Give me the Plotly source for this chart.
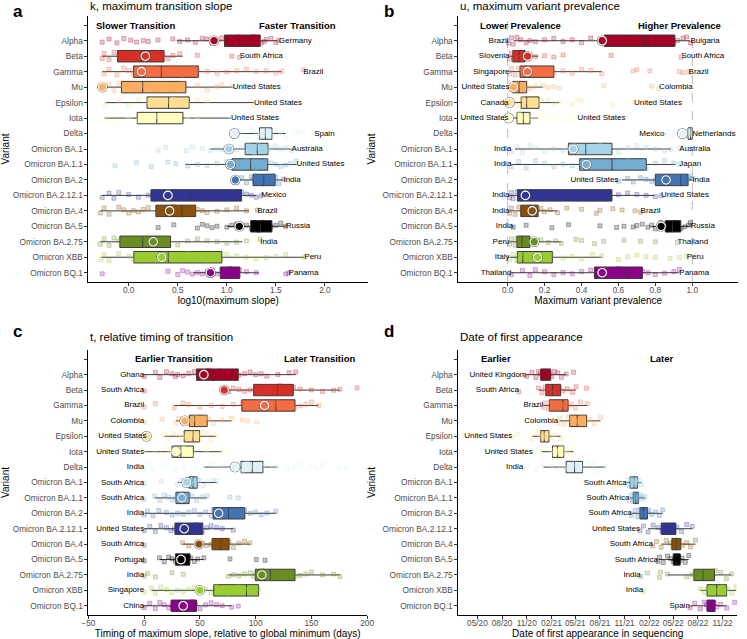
import plotly.graph_objects as go

# ---------------- data ----------------
variants = ['Alpha', 'Beta', 'Gamma', 'Mu', 'Epsilon', 'Iota', 'Delta',
            'Omicron BA.1', 'Omicron BA.1.1', 'Omicron BA.2', 'Omicron BA.2.12.1',
            'Omicron BA.4', 'Omicron BA.5', 'Omicron BA.2.75', 'Omicron XBB', 'Omicron BQ.1']
colors = ['#A50026', '#D73027', '#F46D43', '#FDAE61', '#FEE090', '#FFFFBF', '#E0F3F8',
          '#A6D3E8', '#74ADD1', '#4575B4', '#313695', '#8C510A', '#000000', '#6B8E23',
          '#9ACD32', '#8B008B']

# panel a: log10(maximum slope)
slope_lower = [0.49, -0.27, -0.27, -0.25, -0.24, -0.247, 1.08, 0.827, 0.577, 1.09, -0.273, -0.29, 1.0, -0.29, -0.28, 0.66]
slope_q1 = [0.977, -0.113, 0.05, -0.073, 0.187, 0.087, 1.333, 1.187, 1.053, 1.267, 0.227, 0.277, 1.243, -0.09, 0.053, 0.933]
slope_median = [1.23, 0.127, 0.333, 0.143, 0.407, 0.287, 1.393, 1.31, 1.243, 1.377, 0.637, 0.543, 1.343, 0.143, 0.403, 1.05]
slope_q3 = [1.34, 0.36, 0.71, 0.583, 0.617, 0.553, 1.46, 1.42, 1.417, 1.493, 1.15, 0.683, 1.46, 0.427, 0.95, 1.133]
slope_upper = [1.51, 0.55, 1.56, 1.06, 1.277, 1.043, 1.6, 1.66, 1.71, 1.577, 1.3, 1.227, 1.6, 1.16, 1.79, 1.327]
slope_highlight = [0.87, 0.17, 0.13, -0.267, None, None, 1.077, 1.02, 1.037, 1.087, 0.40, 0.417, 1.127, 0.25, 0.337, 0.833]
slope_max_country = ['Germany', 'South Africa', 'Brazil', 'United States', 'United States', 'United States',
                     'Spain', 'Australia', 'United States', 'India', 'Mexico', 'Brazil', 'Russia', 'India',
                     'Peru', 'Panama']
slope_points = [
    [-0.27, -0.2, -0.12, -0.05, 0.02, 0.08, 0.15, 0.2, 0.3, 0.45, 0.52, 0.6, 0.68, 0.75, 0.8, 0.85, 0.9, 0.95, 1.0,
     1.02, 1.05, 1.08, 1.1, 1.12, 1.15, 1.18, 1.2, 1.22, 1.25, 1.27, 1.3, 1.32, 1.35, 1.38, 1.4, 1.45, 1.5, 1.53],
    [-0.27, -0.25, -0.2, -0.15, -0.1, -0.05, 0.0, 0.05, 0.1, 0.12, 0.15, 0.2, 0.25, 0.3, 0.35, 0.4, 0.45, 0.52, 0.7, 1.05, 1.13],
    [-0.25, -0.2, -0.12, -0.05, 0.0, 0.05, 0.1, 0.15, 0.2, 0.25, 0.3, 0.35, 0.4, 0.45, 0.5, 0.55, 0.6, 0.65, 0.7, 0.8,
     0.9, 1.0, 1.1, 1.2, 1.3, 1.4, 1.5, 1.56, 1.78],
    [-0.25, -0.2, -0.15, -0.1, -0.05, 0.0, 0.05, 0.1, 0.15, 0.2, 0.3, 0.4, 0.45, 0.55, 0.7, 0.8, 0.9, 0.95, 1.06],
    [-0.24, -0.1, 0.0, 0.1, 0.2, 0.25, 0.3, 0.35, 0.4, 0.45, 0.5, 0.55, 0.6, 0.7, 0.8, 1.277],
    [-0.247, -0.2, -0.15, -0.1, 0.0, 0.1, 0.15, 0.2, 0.3, 0.4, 0.5, 0.6, 0.7, 0.8, 1.043],
    [1.1, 1.15, 1.2, 1.25, 1.3, 1.33, 1.35, 1.37, 1.39, 1.4, 1.42, 1.44, 1.46, 1.5, 1.55, 1.6, 1.7, 1.75, 1.89],
    [0.30, 0.38, 0.59, 0.65, 0.75, 0.83, 0.9, 0.95, 1.0, 1.05, 1.1, 1.15, 1.2, 1.22, 1.25, 1.28, 1.3, 1.32, 1.35, 1.38,
     1.4, 1.42, 1.45, 1.5, 1.55, 1.6, 1.66],
    [-0.14, 0.08, 0.23, 0.4, 0.48, 0.6, 0.7, 0.8, 0.9, 1.0, 1.05, 1.1, 1.15, 1.2, 1.25, 1.3, 1.35, 1.4, 1.45, 1.5, 1.55,
     1.6, 1.65, 1.71],
    [1.09, 1.15, 1.2, 1.25, 1.27, 1.3, 1.32, 1.35, 1.37, 1.38, 1.4, 1.42, 1.45, 1.47, 1.5, 1.53, 1.577],
    [-0.27, -0.2, -0.15, -0.1, 0.0, 0.1, 0.2, 0.3, 0.4, 0.5, 0.6, 0.65, 0.7, 0.8, 0.9, 1.0, 1.1, 1.15, 1.2, 1.25, 1.3, 1.35],
    [-0.29, -0.25, -0.2, -0.1, -0.05, 0.0, 0.05, 0.1, 0.15, 0.2, 0.3, 0.35, 0.4, 0.45, 0.5, 0.55, 0.6, 0.65, 0.7, 0.75,
     0.8, 0.9, 1.0, 1.1, 1.2, 1.31],
    [0.30, 0.46, 0.7, 0.75, 0.8, 0.85, 0.9, 1.0, 1.05, 1.1, 1.15, 1.2, 1.25, 1.28, 1.3, 1.32, 1.34, 1.36, 1.38, 1.4,
     1.42, 1.45, 1.5, 1.55, 1.6],
    [-0.29, -0.25, -0.2, -0.15, -0.1, -0.05, 0.0, 0.05, 0.1, 0.15, 0.2, 0.25, 0.3, 0.35, 0.4, 0.5, 0.6, 0.7, 0.8, 0.9,
     1.0, 1.1, 1.2, 1.34],
    [-0.28, -0.25, -0.2, -0.1, 0.0, 0.05, 0.1, 0.15, 0.2, 0.25, 0.3, 0.4, 0.5, 0.6, 0.7, 0.8, 0.9, 1.0, 1.1, 1.2, 1.3,
     1.4, 1.5, 1.6, 1.79],
    [-0.27, 0.4, 0.5, 0.55, 0.6, 0.65, 0.7, 0.75, 0.8, 0.85, 0.9, 0.95, 1.0, 1.03, 1.05, 1.08, 1.1, 1.13, 1.2, 1.3, 1.6, 1.63],
]
slope_ticks = [0.0, 0.5, 1.0, 1.5, 2.0]

# panel b: maximum variant prevalence
prev_lower = [0.032, 0.01, 0.01, 0.01, 0.01, 0.005, 0.95, 0.04, 0.02, 0.618, 0.01, 0.01, 0.78, 0.01, 0.01, 0.02]
prev_q1 = [0.524, 0.028, 0.067, 0.028, 0.073, 0.05, 0.977, 0.329, 0.39, 0.8, 0.053, 0.071, 0.854, 0.05, 0.052, 0.47]
prev_median = [0.742, 0.062, 0.103, 0.062, 0.103, 0.085, 0.991, 0.423, 0.565, 0.938, 0.13, 0.126, 0.893, 0.078, 0.082, 0.645]
prev_q3 = [0.906, 0.094, 0.25, 0.103, 0.17, 0.121, 1.0, 0.565, 0.751, 0.977, 0.565, 0.165, 0.938, 0.12, 0.242, 0.73]
prev_upper = [0.988, 0.165, 0.51, 0.19, 0.28, 0.165, 1.0, 0.885, 0.91, 1.0, 0.796, 0.27, 0.99, 0.29, 0.51, 0.93]
prev_highlight = [0.512, 0.108, 0.107, 0.032, 0.011, 0.005, 0.947, 0.355, 0.426, 0.858, 0.096, 0.133, 0.831, 0.144, 0.162, 0.512]
prev_min_country = ['Brazil', 'Slovenia', 'Singapore', 'United States', 'Canada', 'United States', 'Mexico', 'India',
                    'India', 'United States', 'India', 'India', 'India', 'Peru', 'Italy', 'Thailand']
prev_max_country = ['Bulgaria', 'South Africa', 'Brazil', 'Colombia', 'United States', 'United States', 'Netherlands',
                    'Australia', 'Japan', 'India', 'United States', 'Brazil', 'Russia', 'Thailand', 'Peru', 'Panama']
prev_points = [
    [0.005, 0.02, 0.03, 0.05, 0.07, 0.1, 0.12, 0.15, 0.2, 0.25, 0.3, 0.35, 0.4, 0.45, 0.5, 0.55, 0.6, 0.65, 0.7, 0.72,
     0.75, 0.78, 0.8, 0.82, 0.85, 0.87, 0.9, 0.92, 0.95, 0.97, 0.99],
    [0.01, 0.02, 0.03, 0.04, 0.05, 0.06, 0.07, 0.08, 0.1, 0.12, 0.15, 0.2, 0.25, 0.3, 0.56, 0.94],
    [0.01, 0.02, 0.04, 0.06, 0.08, 0.1, 0.12, 0.15, 0.18, 0.2, 0.25, 0.3, 0.35, 0.4, 0.45, 0.51, 0.68, 0.7, 0.77, 0.93, 0.95, 0.98],
    [0.01, 0.02, 0.03, 0.05, 0.06, 0.08, 0.1, 0.12, 0.15, 0.19, 0.22, 0.25, 0.28, 0.52, 0.78, 0.82],
    [0.005, 0.03, 0.06, 0.08, 0.1, 0.12, 0.14, 0.16, 0.18, 0.22, 0.25, 0.28, 0.35, 0.38, 0.4, 0.57, 0.684],
    [0.005, 0.02, 0.04, 0.06, 0.08, 0.1, 0.12, 0.14, 0.17, 0.2, 0.23, 0.27, 0.32, 0.34, 0.36, 0.378],
    [0.85, 0.87, 0.89, 0.91, 0.93, 0.95, 0.96, 0.97, 0.98, 0.99, 1.0],
    [0.02, 0.05, 0.08, 0.12, 0.15, 0.2, 0.25, 0.3, 0.33, 0.36, 0.4, 0.42, 0.45, 0.5, 0.55, 0.6, 0.65, 0.7, 0.75, 0.8,
     0.85, 0.885, 0.93],
    [0.02, 0.06, 0.1, 0.15, 0.2, 0.25, 0.3, 0.35, 0.4, 0.45, 0.5, 0.55, 0.6, 0.65, 0.7, 0.75, 0.8, 0.85, 0.9, 0.93],
    [0.6, 0.65, 0.68, 0.72, 0.75, 0.78, 0.8, 0.83, 0.85, 0.87, 0.9, 0.92, 0.94, 0.95, 0.96, 0.97, 0.98, 0.99, 1.0],
    [0.01, 0.02, 0.03, 0.05, 0.07, 0.1, 0.13, 0.17, 0.2, 0.25, 0.3, 0.35, 0.4, 0.45, 0.5, 0.55, 0.6, 0.65, 0.7, 0.75, 0.8, 0.83],
    [0.01, 0.02, 0.04, 0.06, 0.08, 0.1, 0.12, 0.14, 0.16, 0.18, 0.2, 0.23, 0.27, 0.32, 0.4, 0.48, 0.5, 0.57, 0.62, 0.69, 0.72],
    [0.03, 0.1, 0.24, 0.33, 0.5, 0.59, 0.63, 0.68, 0.7, 0.73, 0.76, 0.78, 0.8, 0.83, 0.85, 0.87, 0.88, 0.9, 0.91, 0.92,
     0.94, 0.96, 0.98, 0.99],
    [0.01, 0.02, 0.04, 0.05, 0.06, 0.08, 0.1, 0.12, 0.15, 0.18, 0.22, 0.26, 0.29, 0.37, 0.4, 0.47, 0.52, 0.63, 0.72, 0.8, 0.92],
    [0.01, 0.03, 0.05, 0.07, 0.08, 0.1, 0.13, 0.16, 0.2, 0.24, 0.3, 0.35, 0.4, 0.46, 0.51, 0.6, 0.65, 0.7, 0.75, 0.8,
     0.88, 0.93, 0.97],
    [0.02, 0.08, 0.12, 0.15, 0.2, 0.25, 0.3, 0.35, 0.4, 0.45, 0.5, 0.52, 0.55, 0.6, 0.63, 0.65, 0.68, 0.7, 0.73, 0.76,
     0.8, 0.85, 0.9, 0.93],
]
prev_ticks = [0.0, 0.2, 0.4, 0.6, 0.8, 1.0]
prev_ref_lines = [0.0, 1.0]

# panel c: timing of maximum slope (days)
timing_lower = [0, 71.8, 27, 28.5, 18.2, 0, 53.5, 30, 9.4, 0.6, 0, 34.4, 13.8, 75.6, 6.5, 0]
timing_q1 = [47, 98.2, 87.6, 40.6, 35.9, 25, 86.8, 40.3, 28.5, 61.8, 27.6, 60.9, 28, 99.7, 62.4, 24.1]
timing_median = [61.8, 119.7, 118.2, 45.3, 43.8, 33, 97, 43.8, 35, 75.6, 40.9, 68.8, 33, 113.2, 91.8, 34.4]
timing_q3 = [84.4, 133.8, 135.3, 56.5, 49.7, 44.1, 106.5, 47.6, 40.3, 90.3, 52.6, 76.2, 41, 135.3, 102.6, 47]
timing_upper = [136, 175.6, 156.5, 78.5, 64.4, 69.7, 119.7, 65, 56.5, 118.2, 80, 94.7, 53.5, 175.6, 102.6, 78.5]
timing_highlight = [53.5, 71.8, 108, 36.5, 2, 28.5, 81.5, 38.2, 33.8, 66.8, 35.9, 49.1, 33, 105.6, 50, 35]
timing_min_country = ['Ghana', 'South Africa', 'Brazil', 'Colombia', 'United States', 'United States', 'India',
                      'South Africa', 'South Africa', 'India', 'United States', 'South Africa', 'Portugal', 'India',
                      'Singapore', 'China']
timing_points = [
    [0, 10, 14, 20, 25, 28, 30, 35, 40, 45, 50, 52, 55, 58, 60, 62, 65, 68, 70, 75, 80, 85, 90, 95, 100, 105, 110, 120, 130, 136],
    [0, 72, 76, 80, 85, 90, 95, 100, 105, 110, 115, 118, 120, 122, 125, 128, 130, 134, 140, 150, 160, 170, 175.6, 191],
    [0, 10, 27, 35, 40, 50, 60, 70, 80, 88, 92, 95, 100, 105, 110, 115, 118, 120, 125, 130, 135, 140, 145, 150, 156.5],
    [0, 16, 28.5, 31, 34, 37, 40, 42, 44, 46, 48, 50, 52, 55, 58, 62, 70, 78.5, 88, 93, 101],
    [2, 18, 22, 26, 30, 34, 37, 40, 42, 44, 46, 48, 50, 53, 57, 60, 64.4],
    [0, 10, 15, 20, 23, 25, 27, 30, 32, 35, 38, 41, 44, 50, 56, 62, 69.7, 75.6],
    [0, 5, 8, 15, 20, 28, 35, 47, 53, 60, 65, 70, 75, 80, 85, 88, 90, 92, 95, 98, 100, 103, 106, 110, 115, 120, 128,
     135, 140, 150, 155, 160, 175, 181.5],
    [0, 15.3, 30, 33, 36, 38, 40, 42, 43, 44, 45, 46, 47, 48, 50, 53, 57, 62, 65],
    [0, 9.4, 14, 18, 22, 25, 28, 30, 32, 34, 35, 36, 38, 40, 43, 47, 52, 56.5, 77, 84.4],
    [0, 3, 8, 13, 20, 25, 30, 35, 40, 45, 50, 55, 60, 62, 65, 68, 70, 73, 75, 78, 80, 83, 86, 90, 95, 100, 105, 110, 118],
    [0, 5, 10, 15, 20, 24, 27, 30, 33, 36, 39, 41, 43, 46, 49, 52, 56, 60, 65, 70, 80],
    [0, 34.4, 40, 48, 52, 56, 60, 62, 64, 66, 68, 70, 72, 74, 76, 80, 85, 90, 94.7],
    [0, 13.8, 18, 22, 25, 28, 30, 32, 33, 34, 35, 36, 38, 40, 42, 45, 48, 53.5, 77, 100.6, 108.5],
    [0, 3, 10, 25, 35, 75.6, 80, 85, 90, 95, 98, 100, 103, 106, 110, 113, 116, 120, 125, 130, 135, 140, 145, 150, 160,
     170, 175.6],
    [0, 6.5, 10, 15, 20, 25, 30, 35, 40, 45, 50, 55, 60, 65, 70, 75, 80, 85, 90, 92, 95, 100, 102.6],
    [0, 5, 10, 14, 18, 22, 25, 28, 30, 33, 35, 38, 40, 43, 46, 50, 55, 60, 65, 70, 78.5, 84.4],
]
timing_ticks = [-50, 0, 50, 100, 150, 200]

# panel d: date of first appearance
date_lower = ['2020-10-31', '2020-12-15', '2021-01-02', '2021-03-04', '2020-11-21', '2020-12-27', '2021-01-02',
              '2021-11-09', '2021-11-21', '2021-11-27', '2022-01-27', '2022-03-17', '2022-03-11', '2022-04-10',
              '2022-08-10', '2022-07-05']
date_q1 = ['2020-12-23', '2021-01-11', '2021-01-24', '2021-04-10', '2020-12-23', '2021-02-05', '2021-03-28',
           '2021-11-21', '2021-12-03', '2021-12-28', '2022-03-17', '2022-04-26', '2022-05-01', '2022-07-17',
           '2022-09-04', '2022-09-04']
date_median = ['2021-01-08', '2021-02-05', '2021-03-16', '2021-05-08', '2021-01-05', '2021-02-24', '2021-04-28',
               '2021-12-06', '2021-12-12', '2022-01-10', '2022-04-16', '2022-05-13', '2022-05-14', '2022-08-20',
               '2022-10-10', '2022-09-19']
date_q3 = ['2021-01-29', '2021-03-07', '2021-04-04', '2021-06-12', '2021-01-23', '2021-03-19', '2021-05-28',
           '2021-12-19', '2021-12-22', '2022-01-25', '2022-05-11', '2022-05-29', '2022-05-27', '2022-10-02',
           '2022-11-16', '2022-10-04']
date_upper = ['2021-03-28', '2021-05-04', '2021-06-16', '2021-08-03', '2021-03-07', '2021-04-24', '2021-08-22',
              '2022-01-03', '2022-01-15', '2022-03-23', '2022-07-11', '2022-07-23', '2022-06-28', '2022-12-04',
              '2022-12-22', '2022-11-16']
date_min_country = ['United Kingdom', 'South Africa', 'Brazil', 'Colombia', 'United States', 'United States', 'India',
                    'South Africa', 'South Africa', 'South Africa', 'United States', 'South Africa', 'South Africa',
                    'India', 'India', 'Spain']
date_points = [
    ['2020-10-31', '2020-11-20', '2020-12-05', '2020-12-15', '2020-12-22', '2020-12-28', '2021-01-03', '2021-01-08',
     '2021-01-12', '2021-01-16', '2021-01-20', '2021-01-25', '2021-02-02', '2021-02-12', '2021-02-25', '2021-03-10',
     '2021-03-28', '2021-04-24'],
    ['2020-10-03', '2020-12-15', '2020-12-28', '2021-01-08', '2021-01-18', '2021-01-28', '2021-02-05', '2021-02-12',
     '2021-02-22', '2021-03-03', '2021-03-15', '2021-04-01', '2021-04-20', '2021-05-04', '2021-06-12'],
    ['2021-01-02', '2021-01-10', '2021-01-20', '2021-02-01', '2021-02-15', '2021-03-01', '2021-03-10', '2021-03-16',
     '2021-03-22', '2021-03-28', '2021-04-04', '2021-04-15', '2021-05-01', '2021-05-20', '2021-06-16'],
    ['2021-02-26', '2021-03-04', '2021-03-20', '2021-04-05', '2021-04-15', '2021-04-25', '2021-05-05', '2021-05-12',
     '2021-05-20', '2021-06-01', '2021-06-10', '2021-06-25', '2021-07-10', '2021-08-03'],
    ['2020-09-08', '2020-09-27', '2020-11-21', '2020-12-05', '2020-12-18', '2020-12-26', '2021-01-02', '2021-01-06',
     '2021-01-12', '2021-01-20', '2021-02-01', '2021-02-15', '2021-03-07'],
    ['2020-11-23', '2020-12-10', '2020-12-27', '2021-01-15', '2021-02-01', '2021-02-10', '2021-02-18', '2021-02-24',
     '2021-03-02', '2021-03-10', '2021-03-20', '2021-04-01', '2021-04-12', '2021-04-24'],
    ['2020-10-19', '2020-11-10', '2020-12-05', '2021-01-02', '2021-02-01', '2021-03-01', '2021-03-20', '2021-04-05',
     '2021-04-20', '2021-04-28', '2021-05-08', '2021-05-20', '2021-06-05', '2021-06-20', '2021-07-10', '2021-07-25',
     '2021-08-22'],
    ['2021-11-09', '2021-11-15', '2021-11-20', '2021-11-25', '2021-11-29', '2021-12-02', '2021-12-05', '2021-12-08',
     '2021-12-11', '2021-12-15', '2021-12-20', '2021-12-26', '2022-01-03'],
    ['2021-11-19', '2021-11-25', '2021-12-01', '2021-12-05', '2021-12-09', '2021-12-12', '2021-12-15', '2021-12-19',
     '2021-12-24', '2021-12-30', '2022-01-08', '2022-01-15'],
    ['2021-11-27', '2021-12-10', '2021-12-20', '2021-12-28', '2022-01-04', '2022-01-08', '2022-01-12', '2022-01-16',
     '2022-01-22', '2022-01-30', '2022-02-10', '2022-02-25', '2022-03-10', '2022-03-23'],
    ['2021-12-28', '2022-01-10', '2022-01-27', '2022-02-15', '2022-03-05', '2022-03-20', '2022-04-01', '2022-04-10',
     '2022-04-16', '2022-04-24', '2022-05-02', '2022-05-15', '2022-06-01', '2022-06-20', '2022-07-11'],
    ['2022-02-14', '2022-02-28', '2022-03-17', '2022-04-05', '2022-04-20', '2022-04-30', '2022-05-08', '2022-05-13',
     '2022-05-18', '2022-05-25', '2022-06-05', '2022-06-20', '2022-07-05', '2022-07-23'],
    ['2022-03-05', '2022-03-11', '2022-03-25', '2022-04-10', '2022-04-22', '2022-05-01', '2022-05-07', '2022-05-12',
     '2022-05-16', '2022-05-20', '2022-05-26', '2022-06-03', '2022-06-15', '2022-06-28'],
    ['2021-12-31', '2022-01-25', '2022-03-11', '2022-03-14', '2022-04-10', '2022-06-20', '2022-07-10', '2022-07-25',
     '2022-08-05', '2022-08-15', '2022-08-25', '2022-09-05', '2022-09-20', '2022-10-05', '2022-10-25', '2022-11-15',
     '2022-12-04'],
    ['2022-01-09', '2022-08-10', '2022-08-25', '2022-09-05', '2022-09-15', '2022-09-28', '2022-10-05', '2022-10-12',
     '2022-10-20', '2022-10-30', '2022-11-10', '2022-11-20', '2022-12-05', '2022-12-22'],
    ['2022-07-02', '2022-07-20', '2022-08-10', '2022-08-25', '2022-09-02', '2022-09-10', '2022-09-16', '2022-09-20',
     '2022-09-25', '2022-10-01', '2022-10-10', '2022-10-25', '2022-11-16', '2022-12-16'],
]
date_ticks = ['2020-05-01', '2020-08-01', '2020-11-01', '2021-02-01', '2021-05-01', '2021-08-01', '2021-11-01',
              '2022-02-01', '2022-05-01', '2022-08-01', '2022-11-01']
date_range = ['2020-02-20', '2022-12-25']

# ---------------- figure ----------------
FONT = 'Liberation Sans, Arial, Helvetica, sans-serif'
W, H = 747, 639
categories = [' '] + variants


def px(x):   # window pixel -> paper x
    return x / W


def py(y):   # window pixel -> paper y
    return 1 - y / H


def rgba(hexc, a):
    h = hexc.lstrip('#')
    return 'rgba(%d,%d,%d,%s)' % (int(h[0:2], 16), int(h[2:4], 16), int(h[4:6], 16), a)


panels = [
    dict(xa='x', ya='y', lo=slope_lower, q1=slope_q1, md=slope_median, q3=slope_q3, hi=slope_upper,
         pts=slope_points, hl=slope_highlight, left=None, right=slope_max_country),
    dict(xa='x2', ya='y2', lo=prev_lower, q1=prev_q1, md=prev_median, q3=prev_q3, hi=prev_upper,
         pts=prev_points, hl=prev_highlight, left=prev_min_country, right=prev_max_country),
    dict(xa='x3', ya='y3', lo=timing_lower, q1=timing_q1, md=timing_median, q3=timing_q3, hi=timing_upper,
         pts=timing_points, hl=timing_highlight, left=timing_min_country, right=None),
    dict(xa='x4', ya='y4', lo=date_lower, q1=date_q1, md=date_median, q3=date_q3, hi=date_upper,
         pts=date_points, hl=None, left=date_min_country, right=None),
]

fig = go.Figure()
for p in panels:
    # boxes
    for i, v in enumerate(variants):
        fig.add_trace(go.Box(
            y=[v], q1=[p['q1'][i]], median=[p['md'][i]], q3=[p['q3'][i]],
            lowerfence=[p['lo'][i]], upperfence=[p['hi'][i]], orientation='h',
            fillcolor=colors[i], line=dict(color='#3a3a3a', width=1), whiskerwidth=0,
            width=0.74, boxpoints=False, xaxis=p['xa'], yaxis=p['ya'], hoverinfo='skip'))
    # jittered points
    for i, v in enumerate(variants):
        pts = p['pts'][i]
        fig.add_trace(go.Box(
            x=pts, y=[v] * len(pts), orientation='h', boxpoints='all', jitter=0.8, pointpos=0,
            fillcolor='rgba(0,0,0,0)', line=dict(width=0, color='rgba(0,0,0,0)'), whiskerwidth=0,
            width=0.74, xaxis=p['xa'], yaxis=p['ya'], hoverinfo='skip',
            marker=dict(symbol='square', size=4, color=rgba(colors[i], 0.22),
                        line=dict(color=rgba(colors[i], 0.5), width=0.6))))
    # highlight circles
    if p['hl'] is not None:
        hx = [x for x in p['hl'] if x is not None]
        hy = [v for v, x in zip(variants, p['hl']) if x is not None]
        hc = [c for c, x in zip(colors, p['hl']) if x is not None]
        fig.add_trace(go.Scatter(x=hx, y=hy, mode='markers', xaxis=p['xa'], yaxis=p['ya'], hoverinfo='skip',
                                 marker=dict(size=10.5, color='#555555')))
        fig.add_trace(go.Scatter(x=hx, y=hy, mode='markers', xaxis=p['xa'], yaxis=p['ya'], hoverinfo='skip',
                                 marker=dict(size=8.5, color=hc, line=dict(color='white', width=1.1))))
    # country labels
    if p['left'] is not None:
        fig.add_trace(go.Scatter(x=[min(s) for s in p['pts']], y=variants, text=p['left'], mode='text',
                                 textposition='middle left', xaxis=p['xa'], yaxis=p['ya'], hoverinfo='skip',
                                 textfont=dict(size=8, color='black', family=FONT)))
    if p['right'] is not None:
        fig.add_trace(go.Scatter(x=[max(s) for s in p['pts']], y=variants, text=p['right'], mode='text',
                                 textposition='middle right', xaxis=p['xa'], yaxis=p['ya'], hoverinfo='skip',
                                 textfont=dict(size=8, color='black', family=FONT)))

top_dom = [py(282), py(16)]
bot_dom = [py(615), py(350)]

common = dict(showline=True, linecolor='black', linewidth=1, ticks='outside', ticklen=3, tickcolor='#333333',
              tickwidth=1, showgrid=False, zeroline=False,
              tickfont=dict(size=8.3, color='#4D4D4D', family=FONT))
yax = dict(common, type='category', categoryorder='array', categoryarray=categories, range=[16.6, -0.6],
           title=dict(text='Variant', font=dict(size=10, color='black', family=FONT), standoff=5))
xcommon = dict(common, ticklabelstandoff=-3)
xtitle = lambda t: dict(text=t, font=dict(size=10, color='black', family=FONT), standoff=2)

fig.update_layout(
    width=W, height=H, margin=dict(l=0, r=0, t=0, b=0), autosize=False,
    paper_bgcolor='white', plot_bgcolor='white', showlegend=False, boxmode='overlay',
    font=dict(family=FONT),
    xaxis=dict(xcommon, domain=[px(83), px(368)], anchor='y', range=[-0.41, 2.44], tickvals=slope_ticks,
               tickformat='.1f', title=xtitle('log10(maximum slope)')),
    yaxis=dict(yax, domain=top_dom, anchor='x'),
    xaxis2=dict(xcommon, domain=[px(460), px(745)], anchor='y2', range=[-0.267, 1.248], tickvals=prev_ticks,
                tickformat='.1f', title=xtitle('Maximum variant prevalence')),
    yaxis2=dict(yax, domain=top_dom, anchor='x2'),
    xaxis3=dict(xcommon, domain=[px(83), px(367)], anchor='y3', range=[-50, 200], tickvals=timing_ticks,
                title=xtitle('Timing of maximum slope, relative to global minimum (days)')),
    yaxis3=dict(yax, domain=bot_dom, anchor='x3'),
    xaxis4=dict(xcommon, domain=[px(460), px(744)], anchor='y4', type='date', range=date_range,
                tickvals=date_ticks, tickformat='%m/%y',
                title=xtitle('Date of first appearance in sequencing')),
    yaxis4=dict(yax, domain=bot_dom, anchor='x4'),
)

for xv in prev_ref_lines:
    fig.add_shape(type='line', xref='x2', yref='y2 domain', x0=xv, x1=xv, y0=0, y1=1,
                  line=dict(color='#BBBBBB', width=1, dash='dash'), layer='below')

ann = []
for txt, x, y in [('a', 4, 11), ('b', 382, 11), ('c', 4, 331), ('d', 382, 331)]:
    ann.append(dict(text='<b>%s</b>' % txt, x=px(x), y=py(y), xref='paper', yref='paper', showarrow=False,
                    xanchor='left', yanchor='middle', font=dict(size=17, color='black', family=FONT)))
for txt, x, y in [('k, maximum transition slope', 83, 6), ('u, maximum variant prevalence', 460, 6),
                  ('t, relative timing of transition', 83, 337), ('Date of first appearance', 460, 337)]:
    ann.append(dict(text=txt, x=px(x), y=py(y), xref='paper', yref='paper', showarrow=False,
                    xanchor='left', yanchor='middle', font=dict(size=11.5, color='black', family=FONT)))
for txt, x, y, anc in [('Slower Transition', 89, 25.5, 'left'), ('Faster Transition', 337, 25.5, 'right'),
                       ('Lower Prevalence', 480, 25.5, 'left'), ('Higher Prevalence', 730, 25.5, 'right'),
                       ('Earlier Transition', 128, 358, 'left'), ('Later Transition', 357, 358, 'right'),
                       ('Earlier', 481, 358, 'left'), ('Later', 682, 358, 'right')]:
    ann.append(dict(text='<b>%s</b>' % txt, x=px(x), y=py(y), xref='paper', yref='paper', showarrow=False,
                    xanchor=anc, yanchor='middle', font=dict(size=9.5, color='black', family=FONT)))
fig.update_layout(annotations=ann)

# remove the browser's default page margin so the figure fills the window exactly; hide the mode bar
fig.write_html('out.html', config={'displayModeBar': False},
               post_script="document.body.style.margin='0';document.body.style.padding='0';")
